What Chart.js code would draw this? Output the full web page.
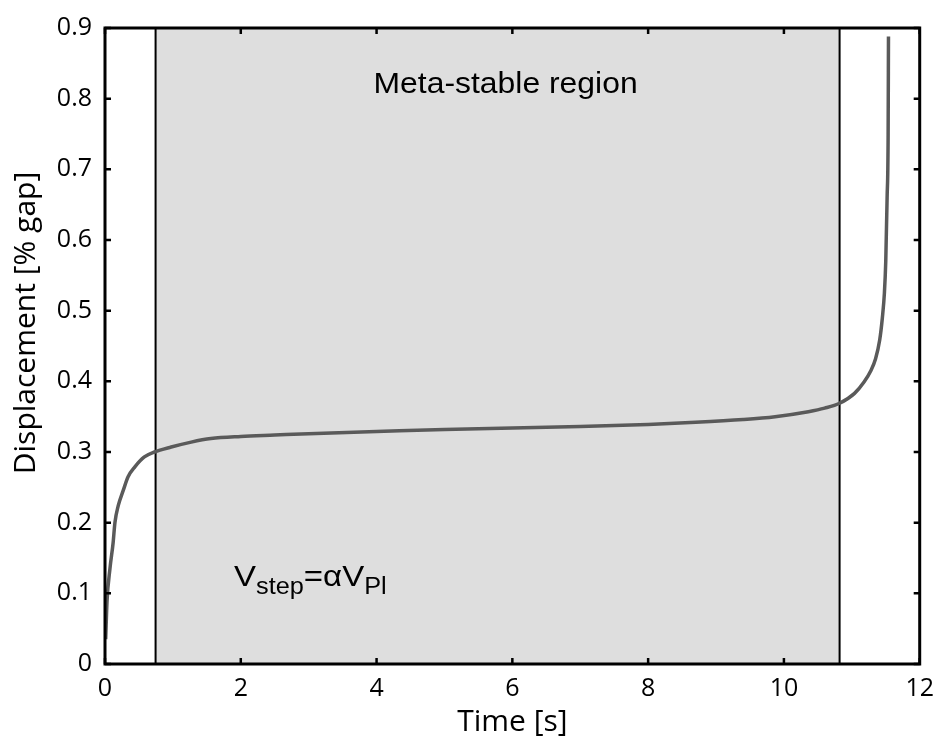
<!DOCTYPE html>
<html>
<head>
<meta charset="utf-8">
<script src="https://cdn.jsdelivr.net/npm/chart.js@4.4.1/dist/chart.umd.min.js"></script>
<style>
    html, body { margin: 0; padding: 0; background: #fff; }
    #wrap { width: 944px; height: 740px; }
</style>
</head>
<body>
<div id="wrap"><canvas id="displacementChart" width="944" height="740"></canvas></div>
<script>
// values
const timeValues = [
    0.01, 0.03, 0.073, 0.12, 0.146, 0.195, 0.27, 0.34, 0.44, 0.58, 0.73, 0.975, 1.27, 1.56,
    2.0, 2.5, 3.0, 4.0, 5.0, 6.0, 7.0, 8.0, 8.7, 9.4, 9.87, 10.36, 10.6, 10.82,
    11.04, 11.18, 11.28, 11.35, 11.41, 11.45, 11.48, 11.5, 11.52, 11.535, 11.54
];
const displacementValues = [
    0.035, 0.089, 0.135, 0.172, 0.2, 0.224, 0.246, 0.265, 0.279, 0.293, 0.300, 0.307, 0.314, 0.319,
    0.322, 0.324, 0.326, 0.329, 0.332, 0.334, 0.336, 0.339, 0.342, 0.346, 0.350, 0.357, 0.362, 0.369,
    0.383, 0.399, 0.415, 0.432, 0.458, 0.49, 0.525, 0.57, 0.66, 0.75, 0.888
];
const xTicks = [0, 2, 4, 6, 8, 10, 12];
const yTicks = [0, 0.1, 0.2, 0.3, 0.4, 0.5, 0.6, 0.7, 0.8, 0.9];
const regionStart = 0.745;
const regionEnd = 10.82;
const regionLabel = 'Meta-stable region';
const regionLabelPos = [5.9, 0.808];
const stepLabelPos = [1.9, 0.11];

const tickFont = { family: 'Open Sans', size: 25 };
const textStretch = 1.1;

const points = timeValues.map((t, i) => ({ x: t, y: displacementValues[i] }));

const framePlugin = {
    id: 'frame',
    beforeDatasetsDraw(chart) {
        const { ctx, chartArea: a, scales: { x } } = chart;
        const x0 = x.getPixelForValue(regionStart);
        const x1 = x.getPixelForValue(regionEnd);
        ctx.save();
        ctx.fillStyle = '#dedede';
        ctx.fillRect(x0, a.top, x1 - x0, a.bottom - a.top);
        ctx.strokeStyle = '#000';
        ctx.lineWidth = 2;
        ctx.beginPath();
        ctx.moveTo(x0, a.top); ctx.lineTo(x0, a.bottom);
        ctx.moveTo(x1, a.top); ctx.lineTo(x1, a.bottom);
        ctx.stroke();
        ctx.restore();
    },
    afterDraw(chart) {
        const { ctx, chartArea: a, scales: { x, y } } = chart;
        ctx.save();
        // inward tick marks on all four sides
        ctx.strokeStyle = '#000';
        ctx.lineWidth = 2.5;
        ctx.beginPath();
        xTicks.forEach(v => {
            const px = x.getPixelForValue(v);
            ctx.moveTo(px, a.bottom); ctx.lineTo(px, a.bottom - 6);
            ctx.moveTo(px, a.top); ctx.lineTo(px, a.top + 6);
        });
        yTicks.forEach(v => {
            const py = y.getPixelForValue(v);
            ctx.moveTo(a.left, py); ctx.lineTo(a.left + 6, py);
            ctx.moveTo(a.right, py); ctx.lineTo(a.right - 6, py);
        });
        ctx.stroke();
        ctx.lineWidth = 3;
        ctx.strokeRect(a.left, a.top, a.right - a.left, a.bottom - a.top);

        // y axis title
        ctx.fillStyle = '#000';
        ctx.font = '30px "Open Sans"';
        ctx.textAlign = 'center';
        ctx.textBaseline = 'middle';
        ctx.translate(26, 323);
        ctx.rotate(-Math.PI / 2);
        ctx.fillText('Displacement [% gap]', 0, 0);
        ctx.restore();

        // region label
        ctx.save();
        ctx.fillStyle = '#000';
        ctx.font = '29px "Liberation Sans"';
        ctx.textBaseline = 'alphabetic';
        ctx.translate(x.getPixelForValue(regionLabelPos[0]), y.getPixelForValue(regionLabelPos[1]));
        ctx.scale(textStretch, 1);
        ctx.textAlign = 'center';
        ctx.fillText(regionLabel, 0, 0);
        ctx.restore();

        // V_step = alpha V_PI
        ctx.save();
        ctx.fillStyle = '#000';
        ctx.textBaseline = 'alphabetic';
        ctx.textAlign = 'left';
        ctx.translate(x.getPixelForValue(stepLabelPos[0]), y.getPixelForValue(stepLabelPos[1]));
        ctx.scale(textStretch, 1);
        const parts = [
            ['V', 30, 0], ['step', 23, 8], ['=', 30, 0], ['\u03b1', 30, 0], ['V', 30, 0], ['Pl', 23, 8]
        ];
        let cx = 0;
        parts.forEach(([txt, size, dy]) => {
            ctx.font = size + 'px "Liberation Sans"';
            ctx.fillText(txt, cx, dy);
            cx += ctx.measureText(txt).width;
        });
        ctx.restore();
    }
};

new Chart(document.getElementById('displacementChart').getContext('2d'), {
    type: 'line',
    data: {
        datasets: [{
            data: points,
            borderColor: '#5a5a5a',
            borderWidth: 3.5,
            pointRadius: 0,
            cubicInterpolationMode: 'monotone',
            fill: false
        }]
    },
    options: {
        responsive: false,
        animation: false,
        layout: { padding: { top: 16, right: 18, left: 0, bottom: 0 } },
        plugins: {
            legend: { display: false },
            tooltip: { enabled: false }
        },
        scales: {
            x: {
                type: 'linear',
                min: 0,
                max: 12,
                afterFit: (scale) => { scale.height = 76; },
                afterBuildTicks: (scale) => { scale.ticks = xTicks.map(v => ({ value: v })); },
                grid: { display: false, drawTicks: false },
                border: { display: false },
                ticks: {
                    color: '#000',
                    font: tickFont,
                    padding: 10,
                    maxRotation: 0,
                    callback: (v) => String(v)
                },
                title: {
                    display: true,
                    text: 'Time [s]',
                    color: '#000',
                    font: { family: 'Open Sans', size: 30 },
                    padding: { top: 0, bottom: 0 }
                }
            },
            y: {
                type: 'linear',
                min: 0,
                max: 0.9,
                afterFit: (scale) => { scale.width = 105; },
                afterBuildTicks: (scale) => { scale.ticks = yTicks.map(v => ({ value: v })); },
                grid: { display: false, drawTicks: false },
                border: { display: false },
                ticks: {
                    color: '#000',
                    font: tickFont,
                    padding: 13,
                    callback: (v) => (v === 0 ? '0' : v.toFixed(1))
                }
            }
        }
    },
    plugins: [framePlugin]
});
</script>
</body>
</html>
